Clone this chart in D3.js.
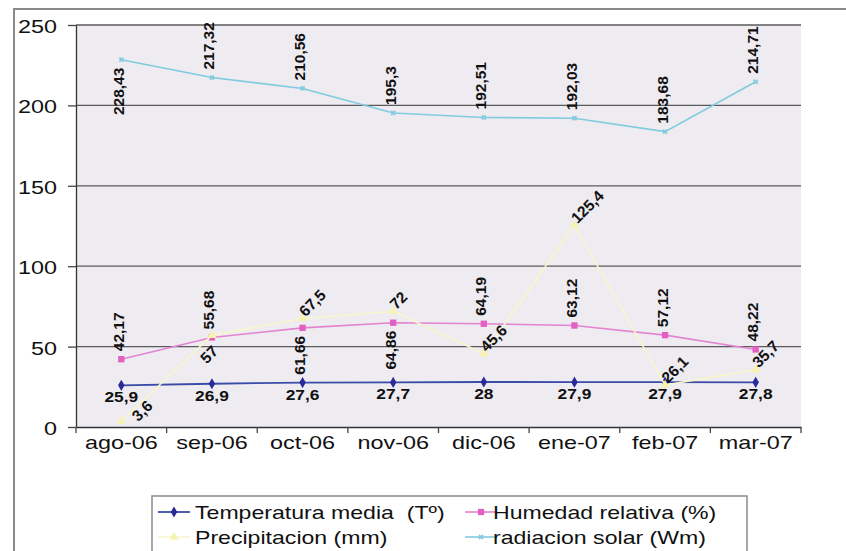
<!DOCTYPE html>
<html>
<head>
<meta charset="utf-8">
<script src="https://cdn.jsdelivr.net/npm/d3@7"></script>
<style>
  body { margin: 0; background: #fff; }
  svg { display: block; font-family: "Liberation Sans", Arial, sans-serif; }
  text { white-space: pre; }
</style>
</head>
<body>
<svg id="chart" width="846" height="551"></svg>
<script>
// Monthly climate series, Aug 2006 – Mar 2007
const months = ["ago-06", "sep-06", "oct-06", "nov-06", "dic-06", "ene-07", "feb-07", "mar-07"];
const temperatura = [25.9, 26.9, 27.6, 27.7, 28, 27.9, 27.9, 27.8];
const humedad = [42.17, 55.68, 61.66, 64.86, 64.19, 63.12, 57.12, 48.22];
const precipitacion = [3.6, 57, 67.5, 72, 45.6, 125.4, 26.1, 35.7];
const radiacion = [228.43, 217.32, 210.56, 195.3, 192.51, 192.03, 183.68, 214.71];
const yTicks = [0, 50, 100, 150, 200, 250];

// Which side of the point each value label sits on
const humLabelSide = ["above", "above", "below", "below", "above", "above", "above", "above"];
const radLabelSide = ["below", "above", "above", "above", "above", "above", "above", "above"];
const preLabelSide = ["farRight", "below", "right", "right", "right", "right", "right", "right"];

const fmt = v => String(v).replace(".", ",");

const svg = d3.select("#chart");
const plot = { left: 76, right: 801, top: 25, bottom: 427 };

const x = d3.scaleBand().domain(months).range([plot.left, plot.right]).paddingInner(0).paddingOuter(0);
const cx = m => x(m) + x.bandwidth() / 2;
const y = d3.scaleLinear().domain([0, 250]).range([plot.bottom, plot.top]);

// Outer chart frame (left and top edges visible)
svg.append("path")
  .attr("d", "M14,551 V9 H846")
  .attr("fill", "none").attr("stroke", "#8a8a8a").attr("stroke-width", 2);

// Plot area background
svg.append("rect")
  .attr("x", plot.left).attr("y", plot.top)
  .attr("width", plot.right - plot.left).attr("height", plot.bottom - plot.top)
  .attr("fill", "#eeebf1");

// Horizontal gridlines
svg.append("g").selectAll("line").data(yTicks.filter(t => t > 0)).join("line")
  .attr("x1", plot.left).attr("x2", plot.right)
  .attr("y1", d => y(d)).attr("y2", d => y(d))
  .attr("stroke", "#5a5a5a").attr("stroke-width", 1.3);

// Y axis
const yAxis = svg.append("g")
  .attr("transform", `translate(${plot.left},0)`)
  .call(d3.axisLeft(y).tickValues(yTicks).tickSize(8).tickSizeOuter(0));
yAxis.select(".domain").attr("stroke", "#333").attr("stroke-width", 1.3);
yAxis.selectAll(".tick line").attr("stroke", "#444").attr("stroke-width", 1.3);
yAxis.selectAll(".tick text")
  .attr("x", null).attr("dy", null)
  .attr("dominant-baseline", "central")
  .attr("text-anchor", "end")
  .attr("transform", "translate(-19,1) scale(1.3,1)")
  .attr("font-size", 18).attr("fill", "#111");

// X axis
const xAxis = svg.append("g")
  .attr("transform", `translate(0,${plot.bottom})`)
  .call(d3.axisBottom(x).tickSize(0).tickSizeOuter(0));
xAxis.select(".domain").attr("stroke", "#333").attr("stroke-width", 1.3);
xAxis.selectAll(".tick text")
  .attr("y", null).attr("dy", null)
  .attr("transform", "translate(0,22) scale(1.3,1)")
  .attr("text-anchor", "middle")
  .attr("font-size", 18).attr("fill", "#111");
// Category boundary ticks
svg.append("g").selectAll("line")
  .data(months.map(m => x(m)).concat([x(months[months.length - 1]) + x.bandwidth()]))
  .join("line")
  .attr("x1", d => d).attr("x2", d => d)
  .attr("y1", plot.bottom).attr("y2", plot.bottom + 6)
  .attr("stroke", "#444").attr("stroke-width", 1.3);

// Series definitions
const series = [
  { name: "Temperatura media  (T\u00ba)", values: temperatura, color: "#3a4ba8", marker: "diamond", markColor: "#2a2a9a", width: 1.8, label: "belowH" },
  { name: "Humedad relativa (%)", values: humedad, color: "#e284d0", marker: "square", markColor: "#e45fc4", width: 1.6, label: "vertical", sides: humLabelSide },
  { name: "Precipitacion (mm)", values: precipitacion, color: "#f8f6cc", marker: "triangle", markColor: "#f6f3b0", width: 1.6, label: "diag", sides: preLabelSide },
  { name: "radiacion solar (Wm)", values: radiacion, color: "#80cbe0", marker: "x", markColor: "#86cce0", width: 1.6, label: "vertical", sides: radLabelSide }
];

function markerPath(type) {
  if (type === "diamond") return d3.symbol(d3.symbolDiamond, 36)();
  if (type === "square") return d3.symbol(d3.symbolSquare, 40)();
  if (type === "triangle") return d3.symbol(d3.symbolTriangle, 36)();
  return d3.symbol(d3.symbolCross, 18)();
}

const line = d3.line().x((d, i) => cx(months[i])).y(d => y(d));

const seriesG = svg.append("g");
series.forEach(s => {
  seriesG.append("path")
    .datum(s.values)
    .attr("d", line)
    .attr("fill", "none")
    .attr("stroke", s.color)
    .attr("stroke-width", s.width);
  seriesG.append("g").selectAll("path").data(s.values).join("path")
    .attr("d", markerPath(s.marker))
    .attr("transform", (d, i) => `translate(${cx(months[i])},${y(d)})` + (s.marker === "x" ? " rotate(45)" : ""))
    .attr("fill", s.markColor);
});

// Value labels
const labelsG = svg.append("g")
  .attr("font-weight", "bold").attr("font-size", 15.5).attr("fill", "#111");

series.forEach(s => {
  s.values.forEach((v, i) => {
    const px = cx(months[i]), py = y(v);
    const t = labelsG.append("text").text(fmt(v));
    if (s.label === "belowH") {
      t.attr("text-anchor", "middle")
        .attr("transform", `translate(${px},${py + 17}) scale(1.12,1)`);
    } else if (s.label === "vertical") {
      const side = s.sides[i];
      t.attr("dominant-baseline", "central");
      if (side === "above") {
        t.attr("text-anchor", "start")
          .attr("transform", `translate(${px - 3},${py - 8}) rotate(-90)`);
      } else {
        t.attr("text-anchor", "end")
          .attr("transform", `translate(${px - 3},${py + 8}) rotate(-90)`);
      }
    } else if (s.label === "diag") {
      const side = s.sides[i];
      if (side === "right") {
        t.attr("text-anchor", "start")
          .attr("transform", `translate(${px + 3},${py - 1}) rotate(-45)`);
      } else if (side === "farRight") {
        t.attr("text-anchor", "start")
          .attr("transform", `translate(${px + 17},${py + 1}) rotate(-45)`);
      } else {
        t.attr("text-anchor", "middle")
          .attr("transform", `translate(${px + 1},${py + 23}) rotate(-45)`);
      }
    }
  });
});

// Legend
const legend = svg.append("g");
legend.append("rect")
  .attr("x", 152).attr("y", 496).attr("width", 595).attr("height", 70)
  .attr("fill", "#fff").attr("stroke", "#8a8a8a").attr("stroke-width", 1.5);

const legendPos = [
  { x: 158, y: 512 }, { x: 465, y: 512 },
  { x: 158, y: 537 }, { x: 465, y: 537 }
];
series.forEach((s, i) => {
  const p = legendPos[i];
  const g = legend.append("g").attr("transform", `translate(${p.x},${p.y})`);
  g.append("line").attr("x1", 0).attr("x2", 32).attr("y1", 0).attr("y2", 0)
    .attr("stroke", s.color).attr("stroke-width", s.width);
  g.append("path").attr("d", markerPath(s.marker))
    .attr("transform", `translate(16,0)` + (s.marker === "x" ? " rotate(45)" : ""))
    .attr("fill", s.markColor);
  g.append("text").text(s.name)
    .attr("dominant-baseline", "central")
    .attr("transform", `translate(${i % 2 === 0 ? 37 : 28},1) scale(1.32,1)`)
    .attr("font-size", 17.5).attr("fill", "#111");
});
</script>
</body>
</html>
